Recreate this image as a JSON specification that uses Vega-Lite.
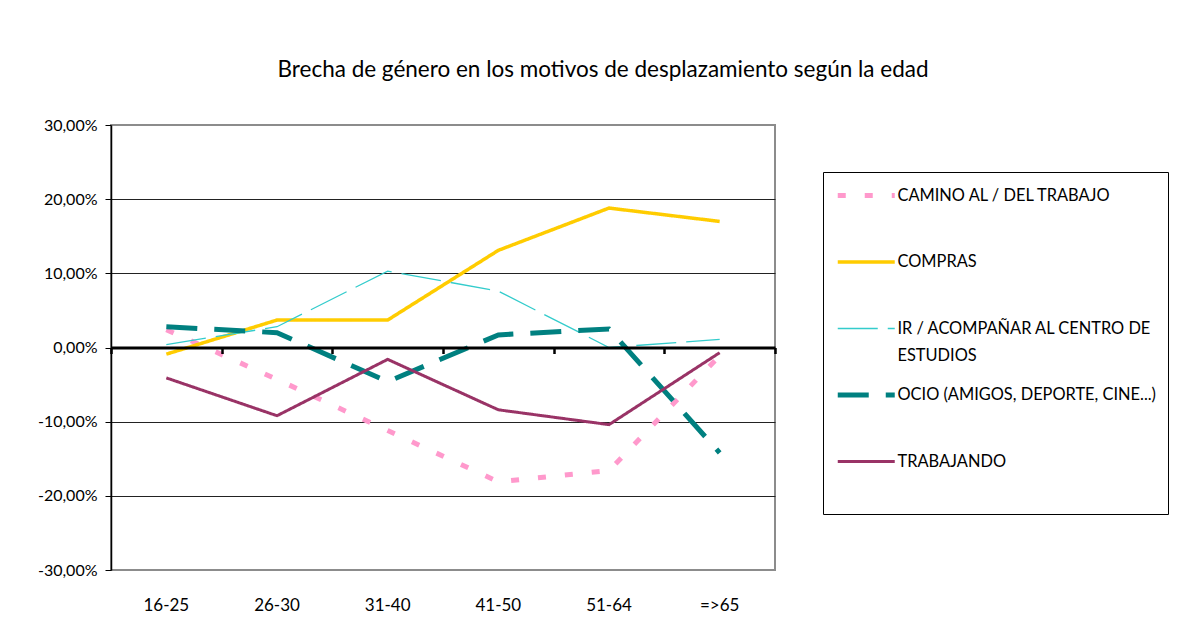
{
  "$schema": "https://vega.github.io/schema/vega-lite/v6.json",
  "width": 664,
  "height": 445,
  "autosize": {"type": "none"},
  "padding": {"left": 111, "top": 125, "right": 404, "bottom": 64},
  "background": "white",
  "title": {
    "text": "Brecha de género en los motivos de desplazamiento según la edad",
    "font": "Lato",
    "fontSize": 22.5,
    "fontWeight": "normal",
    "color": "black",
    "anchor": "middle",
    "frame": "group",
    "dx": 160,
    "baseline": "alphabetic",
    "offset": 18
  },
  "config": {
    "view": {"stroke": "#8c8c8c", "strokeWidth": 2},
    "axis": {"labelFont": "Lato", "labelColor": "black", "titleFont": "Lato"},
    "legend": {"labelFont": "Lato"}
  },
  "data": {
    "values": [
      {"serie": "CAMINO AL / DEL TRABAJO", "edad": "16-25", "valor": 0.024},
      {"serie": "CAMINO AL / DEL TRABAJO", "edad": "26-30", "valor": -0.043},
      {"serie": "CAMINO AL / DEL TRABAJO", "edad": "31-40", "valor": -0.112},
      {"serie": "CAMINO AL / DEL TRABAJO", "edad": "41-50", "valor": -0.181},
      {"serie": "CAMINO AL / DEL TRABAJO", "edad": "51-64", "valor": -0.166},
      {"serie": "CAMINO AL / DEL TRABAJO", "edad": "=>65", "valor": -0.011},
      {"serie": "COMPRAS", "edad": "16-25", "valor": -0.009},
      {"serie": "COMPRAS", "edad": "26-30", "valor": 0.037},
      {"serie": "COMPRAS", "edad": "31-40", "valor": 0.037},
      {"serie": "COMPRAS", "edad": "41-50", "valor": 0.131},
      {"serie": "COMPRAS", "edad": "51-64", "valor": 0.188},
      {"serie": "COMPRAS", "edad": "=>65", "valor": 0.170},
      {"serie": "IR / ACOMPAÑAR AL CENTRO DE ESTUDIOS", "edad": "16-25", "valor": 0.004},
      {"serie": "IR / ACOMPAÑAR AL CENTRO DE ESTUDIOS", "edad": "26-30", "valor": 0.028},
      {"serie": "IR / ACOMPAÑAR AL CENTRO DE ESTUDIOS", "edad": "31-40", "valor": 0.103},
      {"serie": "IR / ACOMPAÑAR AL CENTRO DE ESTUDIOS", "edad": "41-50", "valor": 0.076},
      {"serie": "IR / ACOMPAÑAR AL CENTRO DE ESTUDIOS", "edad": "51-64", "valor": 0.000},
      {"serie": "IR / ACOMPAÑAR AL CENTRO DE ESTUDIOS", "edad": "=>65", "valor": 0.011},
      {"serie": "OCIO (AMIGOS, DEPORTE, CINE...)", "edad": "16-25", "valor": 0.028},
      {"serie": "OCIO (AMIGOS, DEPORTE, CINE...)", "edad": "26-30", "valor": 0.020},
      {"serie": "OCIO (AMIGOS, DEPORTE, CINE...)", "edad": "31-40", "valor": -0.046},
      {"serie": "OCIO (AMIGOS, DEPORTE, CINE...)", "edad": "41-50", "valor": 0.017},
      {"serie": "OCIO (AMIGOS, DEPORTE, CINE...)", "edad": "51-64", "valor": 0.025},
      {"serie": "OCIO (AMIGOS, DEPORTE, CINE...)", "edad": "=>65", "valor": -0.142},
      {"serie": "TRABAJANDO", "edad": "16-25", "valor": -0.041},
      {"serie": "TRABAJANDO", "edad": "26-30", "valor": -0.092},
      {"serie": "TRABAJANDO", "edad": "31-40", "valor": -0.016},
      {"serie": "TRABAJANDO", "edad": "41-50", "valor": -0.084},
      {"serie": "TRABAJANDO", "edad": "51-64", "valor": -0.104},
      {"serie": "TRABAJANDO", "edad": "=>65", "valor": -0.007}
    ]
  },
  "resolve": {"axis": {"x": "independent"}},
  "layer": [
    {
      "mark": {"type": "point", "opacity": 0},
      "encoding": {
        "x": {
          "field": "edad", "type": "nominal", "sort": null,
          "scale": {"paddingInner": 0, "paddingOuter": 0},
          "axis": {
            "orient": "bottom", "offset": -222.5, "title": null, "labels": false,
            "domainColor": "black", "domainWidth": 3,
            "ticks": true, "tickBand": "extent", "tickColor": "black", "tickWidth": 2.5, "tickSize": 6,
            "grid": false, "zindex": 1
          }
        },
        "y": {"field": "valor", "type": "quantitative"}
      }
    },
    {
      "mark": {"type": "line", "clip": false},
      "encoding": {
        "x": {
          "field": "edad", "type": "nominal", "sort": null,
          "axis": {
            "orient": "bottom", "title": null, "labelAngle": 0, "labelFontSize": 17,
            "domain": false, "ticks": false, "labelPadding": 27, "grid": false
          }
        },
        "y": {
          "field": "valor", "type": "quantitative",
          "scale": {"domain": [-0.3, 0.3], "nice": false, "zero": false},
          "axis": {
            "title": null,
            "values": [-0.3, -0.2, -0.1, 0, 0.1, 0.2, 0.3],
            "labelExpr": "replace(replace(format(datum.value, '.2%'), '.', ','), '\u2212', '-')",
            "labelFontSize": 16, "labelPadding": 8,
            "domainColor": "black", "domainWidth": 1.5,
            "tickColor": "black", "tickSize": 6, "tickWidth": 1,
            "grid": true, "gridWidth": 1,
            "gridColor": {"condition": {"test": "datum.value == 0.3 || datum.value == -0.3", "value": "#8c8c8c"}, "value": "#222222"}
          }
        },
        "color": {
          "field": "serie", "type": "nominal",
          "scale": {
            "domain": ["CAMINO AL / DEL TRABAJO", "COMPRAS", "IR / ACOMPAÑAR AL CENTRO DE ESTUDIOS", "OCIO (AMIGOS, DEPORTE, CINE...)", "TRABAJANDO"],
            "range": ["#FF99CC", "#FFCC00", "#33CCCC", "#008080", "#993366"]
          },
          "legend": {
            "title": null,
            "orient": "none", "legendX": 712, "legendY": 47,
            "symbolType": "M-1,0H3", "symbolSize": 812.25,
            "labelFontSize": 16.4, "labelColor": "black", "labelOffset": 28.5, "labelLimit": 0,
            "labelExpr": "datum.label == 'IR / ACOMPAÑAR AL CENTRO DE ESTUDIOS' ? ['IR / ACOMPAÑAR AL CENTRO DE', 'ESTUDIOS'] : datum.label",
            "clipHeight": 52,
            "rowPadding": 14.5, "padding": 12,
            "strokeColor": "black", "fillColor": "white",
            "encode": {
              "labels": {"update": {"y": {"value": 11.5}, "lineHeight": {"value": 27}}},
              "symbols": {"update": {"y": {"value": 11.5}}}
            }
          }
        },
        "strokeDash": {
          "field": "serie", "type": "nominal",
          "scale": {
            "domain": ["CAMINO AL / DEL TRABAJO", "COMPRAS", "IR / ACOMPAÑAR AL CENTRO DE ESTUDIOS", "OCIO (AMIGOS, DEPORTE, CINE...)", "TRABAJANDO"],
            "range": [[8, 19], [1, 0], [40, 10], [31, 17], [1, 0]]
          }
        },
        "strokeWidth": {
          "field": "serie", "type": "nominal",
          "scale": {
            "type": "ordinal",
            "domain": ["CAMINO AL / DEL TRABAJO", "COMPRAS", "IR / ACOMPAÑAR AL CENTRO DE ESTUDIOS", "OCIO (AMIGOS, DEPORTE, CINE...)", "TRABAJANDO"],
            "range": [5, 3.5, 1.3, 5, 3]
          }
        }
      }
    }
  ]
}
